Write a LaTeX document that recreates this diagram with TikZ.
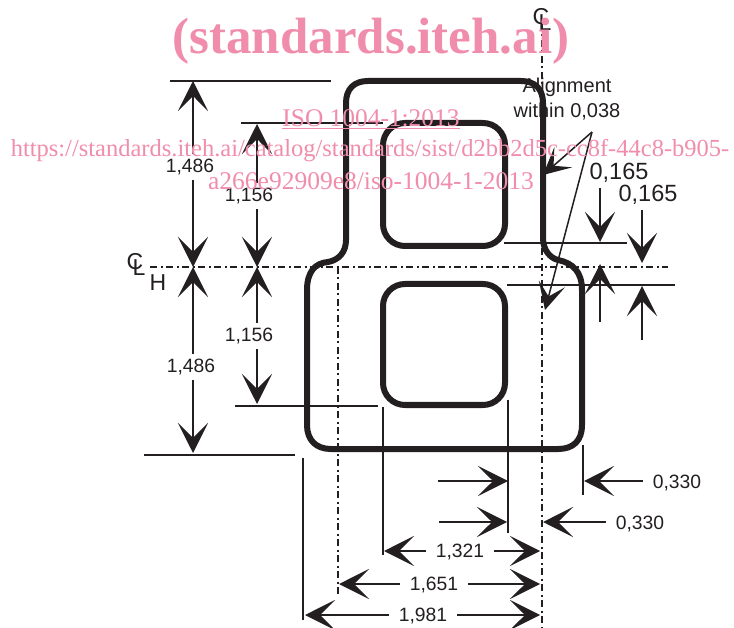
\documentclass[tikz,border=0pt]{standalone}
\usepackage{fontspec}
\usepackage{tikz}
\usetikzlibrary{arrows.meta, calc}
\setmainfont{Liberation Sans}
\newfontfamily\markfont{Liberation Serif}
\definecolor{inkblack}{HTML}{231F20}
\definecolor{markpink}{HTML}{F18DAC}
\tikzset{
  outline/.style={draw=inkblack, line width=6pt, line join=round},
  extline/.style={draw=inkblack, line width=1.7pt},
  centerline/.style={draw=inkblack, line width=1.4pt, dash pattern=on 7pt off 3.5pt on 2pt off 3.5pt},
  dimline/.style={draw=inkblack, line width=1.8pt, -{Stealth[length=30pt, width=30pt, inset=15pt]}},
  leader/.style={draw=inkblack, line width=1.5pt, -{Stealth[length=27pt, width=27pt, inset=13pt]}},
  dimlabel/.style={text=inkblack, font=\fontsize{19.3}{21}\selectfont, inner xsep=10pt, inner ysep=5pt},
  biglabel/.style={text=inkblack, font=\fontsize{23.5}{25}\selectfont, inner xsep=1pt, inner ysep=5pt},
  notelabel/.style={text=inkblack, font=\fontsize{20}{22}\selectfont, inner sep=0pt},
  marklabel/.style={text=inkblack, font=\fontsize{23}{25}\selectfont, inner sep=0pt},
  watermark/.style={text=markpink, inner sep=0pt}
}
\begin{document}
\begin{tikzpicture}[x=1pt, y=-1pt]
  \useasboundingbox (0,0) rectangle (734,628);

  % Centre lines
  \coordinate (vtop) at (542,24);
  \coordinate (vbot) at (542,628);
  \coordinate (hleft) at (150,267);
  \coordinate (hright) at (668,267);
  \coordinate (sidetop) at (338,267);
  \coordinate (sidebot) at (338,595);
  \draw[centerline] (vtop) -- (vbot);
  \draw[centerline] (hleft) -- (hright);
  \draw[centerline] (sidetop) -- (sidebot);

  % Outer wall
  \draw[outline] (346,240) -- (346,103) .. controls (346,89) and (354,81) .. (368,81)
    -- (521,81) .. controls (535,81) and (543,89) .. (543,103)
    -- (543,238) .. controls (543,250) and (550,258) .. (558,260)
    .. controls (573,263) and (582,272) .. (582,290)
    -- (582,425) .. controls (582,441) and (573,449) .. (558,449)
    -- (331,449) .. controls (316,449) and (307,440) .. (307,425)
    -- (307,290) .. controls (307,272) and (315,263) .. (328,262)
    .. controls (339,260) and (346,252) .. (346,240) -- cycle;

  % Two openings
  \draw[outline, rounded corners=22pt] (383,123) rectangle (505,246);
  \draw[outline, rounded corners=22pt] (383,284) rectangle (505,405);

  % Extension lines
  \draw[extline] (170,81) -- (331,81);
  \draw[extline] (241,123) -- (383,123);
  \draw[extline] (235,406) -- (378,406);
  \draw[extline] (144,455) -- (295,455);
  \draw[extline] (504,243) -- (627,243);
  \draw[extline] (507,285) -- (675,285);
  \draw[extline] (383,407) -- (383,555);
  \draw[extline] (508,400) -- (508,533);
  \draw[extline] (303,458) -- (303,620);
  \draw[extline] (583,445) -- (583,495);

  % Left side dimensions
  \node[dimlabel] (upperouter) at (190,167) {1,486};
  \node[dimlabel] (upperinner) at (249,196) {1,156};
  \node[dimlabel] (lowerinner) at (249,336) {1,156};
  \node[dimlabel] (lowerouter) at (191,367) {1,486};
  \coordinate (tiptop) at (193,81);
  \coordinate (tipupper) at (257,124);
  \coordinate (tipmidA) at (193,267);
  \coordinate (tipmidB) at (257,267);
  \coordinate (tiplower) at (257,404);
  \coordinate (tipbot) at (193,453);
  \draw[dimline] (tiptop |- upperouter.north) -- (tiptop);
  \draw[dimline] (tiptop |- upperouter.south) -- (tipmidA);
  \draw[dimline] (tipupper |- upperinner.north) -- (tipupper);
  \draw[dimline] (tipupper |- upperinner.south) -- (tipmidB);
  \draw[dimline] (tipmidB |- lowerinner.north) -- (tipmidB);
  \draw[dimline] (tipmidB |- lowerinner.south) -- (tiplower);
  \draw[dimline] (tipmidA |- lowerouter.north) -- (tipmidA);
  \draw[dimline] (tipmidA |- lowerouter.south) -- (tipbot);

  % Centre line marks
  \node[marklabel] (hmarkC) at (135,262) {C};
  \node[marklabel] (hmarkL) at (139,268) {L};
  \node[marklabel] (hmarkH) at (158,283) {H};
  \node[marklabel] (vmarkC) at (541,17) {C};
  \node[marklabel] (vmarkL) at (545,23) {L};

  % Right side dimensions
  \node[biglabel] (stepA) at (619,173) {0,165};
  \node[biglabel] (stepB) at (648,195) {0,165};
  \coordinate (tipstepA) at (600,242);
  \coordinate (tailstepA) at (600,322);
  \coordinate (upstepA) at (600,264);
  \coordinate (tipstepB) at (642,263);
  \coordinate (tailstepB) at (642,340);
  \coordinate (upstepB) at (642,286);
  \draw[dimline] (tipstepA |- stepA.south) -- (tipstepA);
  \draw[dimline] (tailstepA) -- (upstepA);
  \draw[dimline] (tipstepB |- stepB.south) -- (tipstepB);
  \draw[dimline] (tailstepB) -- (upstepB);

  % Alignment note
  \node[notelabel] (notetop) at (567,87) {Alignment};
  \node[notelabel] (notebot) at (567,112) {within 0,038};
  \coordinate (notefoot) at (592,132);
  \coordinate (noteA) at (543,175);
  \coordinate (noteB) at (545,310);
  \draw[leader] (notefoot) -- (noteA);
  \draw[leader] (notefoot) -- (noteB);

  % Bottom dimensions
  \node[dimlabel] (wallA) at (677,483) {0,330};
  \node[dimlabel] (wallB) at (640,524) {0,330};
  \node[dimlabel] (widthA) at (460,552) {1,321};
  \node[dimlabel] (widthB) at (434,585) {1,651};
  \node[dimlabel] (widthC) at (423,616) {1,981};
  \coordinate (tailA) at (438,481);
  \coordinate (tailB) at (439,522);
  \coordinate (rowA) at (384,551);
  \coordinate (rowB) at (339,584);
  \coordinate (rowC) at (305,615);
  \coordinate (rowEnd) at (540,600);
  \draw[dimline] (tailA) -- (508,481);
  \draw[dimline] (tailB) -- (507,522);
  \draw[dimline] (wallA.west |- tailA) -- (584,481);
  \draw[dimline] (wallB.west |- tailB) -- (543,522);
  \draw[dimline] (widthA.west |- rowA) -- (rowA);
  \draw[dimline] (widthA.east |- rowA) -- (rowEnd |- rowA);
  \draw[dimline] (widthB.west |- rowB) -- (rowB);
  \draw[dimline] (widthB.east |- rowB) -- (rowEnd |- rowB);
  \draw[dimline] (widthC.west |- rowC) -- (rowC);
  \draw[dimline] (widthC.east |- rowC) -- (rowEnd |- rowC);

  % Pink overprint
  \node[watermark, font=\markfont\bfseries\fontsize{51}{54}\selectfont] (markurl) at (371,41) {(standards.iteh.ai)};
  \node[watermark, font=\markfont\fontsize{25.4}{27}\selectfont] (markiso) at (371,119) {\underline{ISO 1004-1:2013}};
  \node[watermark, font=\markfont\fontsize{24.5}{26}\selectfont] (marklineA) at (370,151) {https://standards.iteh.ai/catalog/standards/sist/d2bb2d5c-cc8f-44c8-b905-};
  \node[watermark, font=\markfont\fontsize{25.5}{27}\selectfont] (marklineB) at (371,181) {a266e92909e8/iso-1004-1-2013};
\end{tikzpicture}
\end{document}
